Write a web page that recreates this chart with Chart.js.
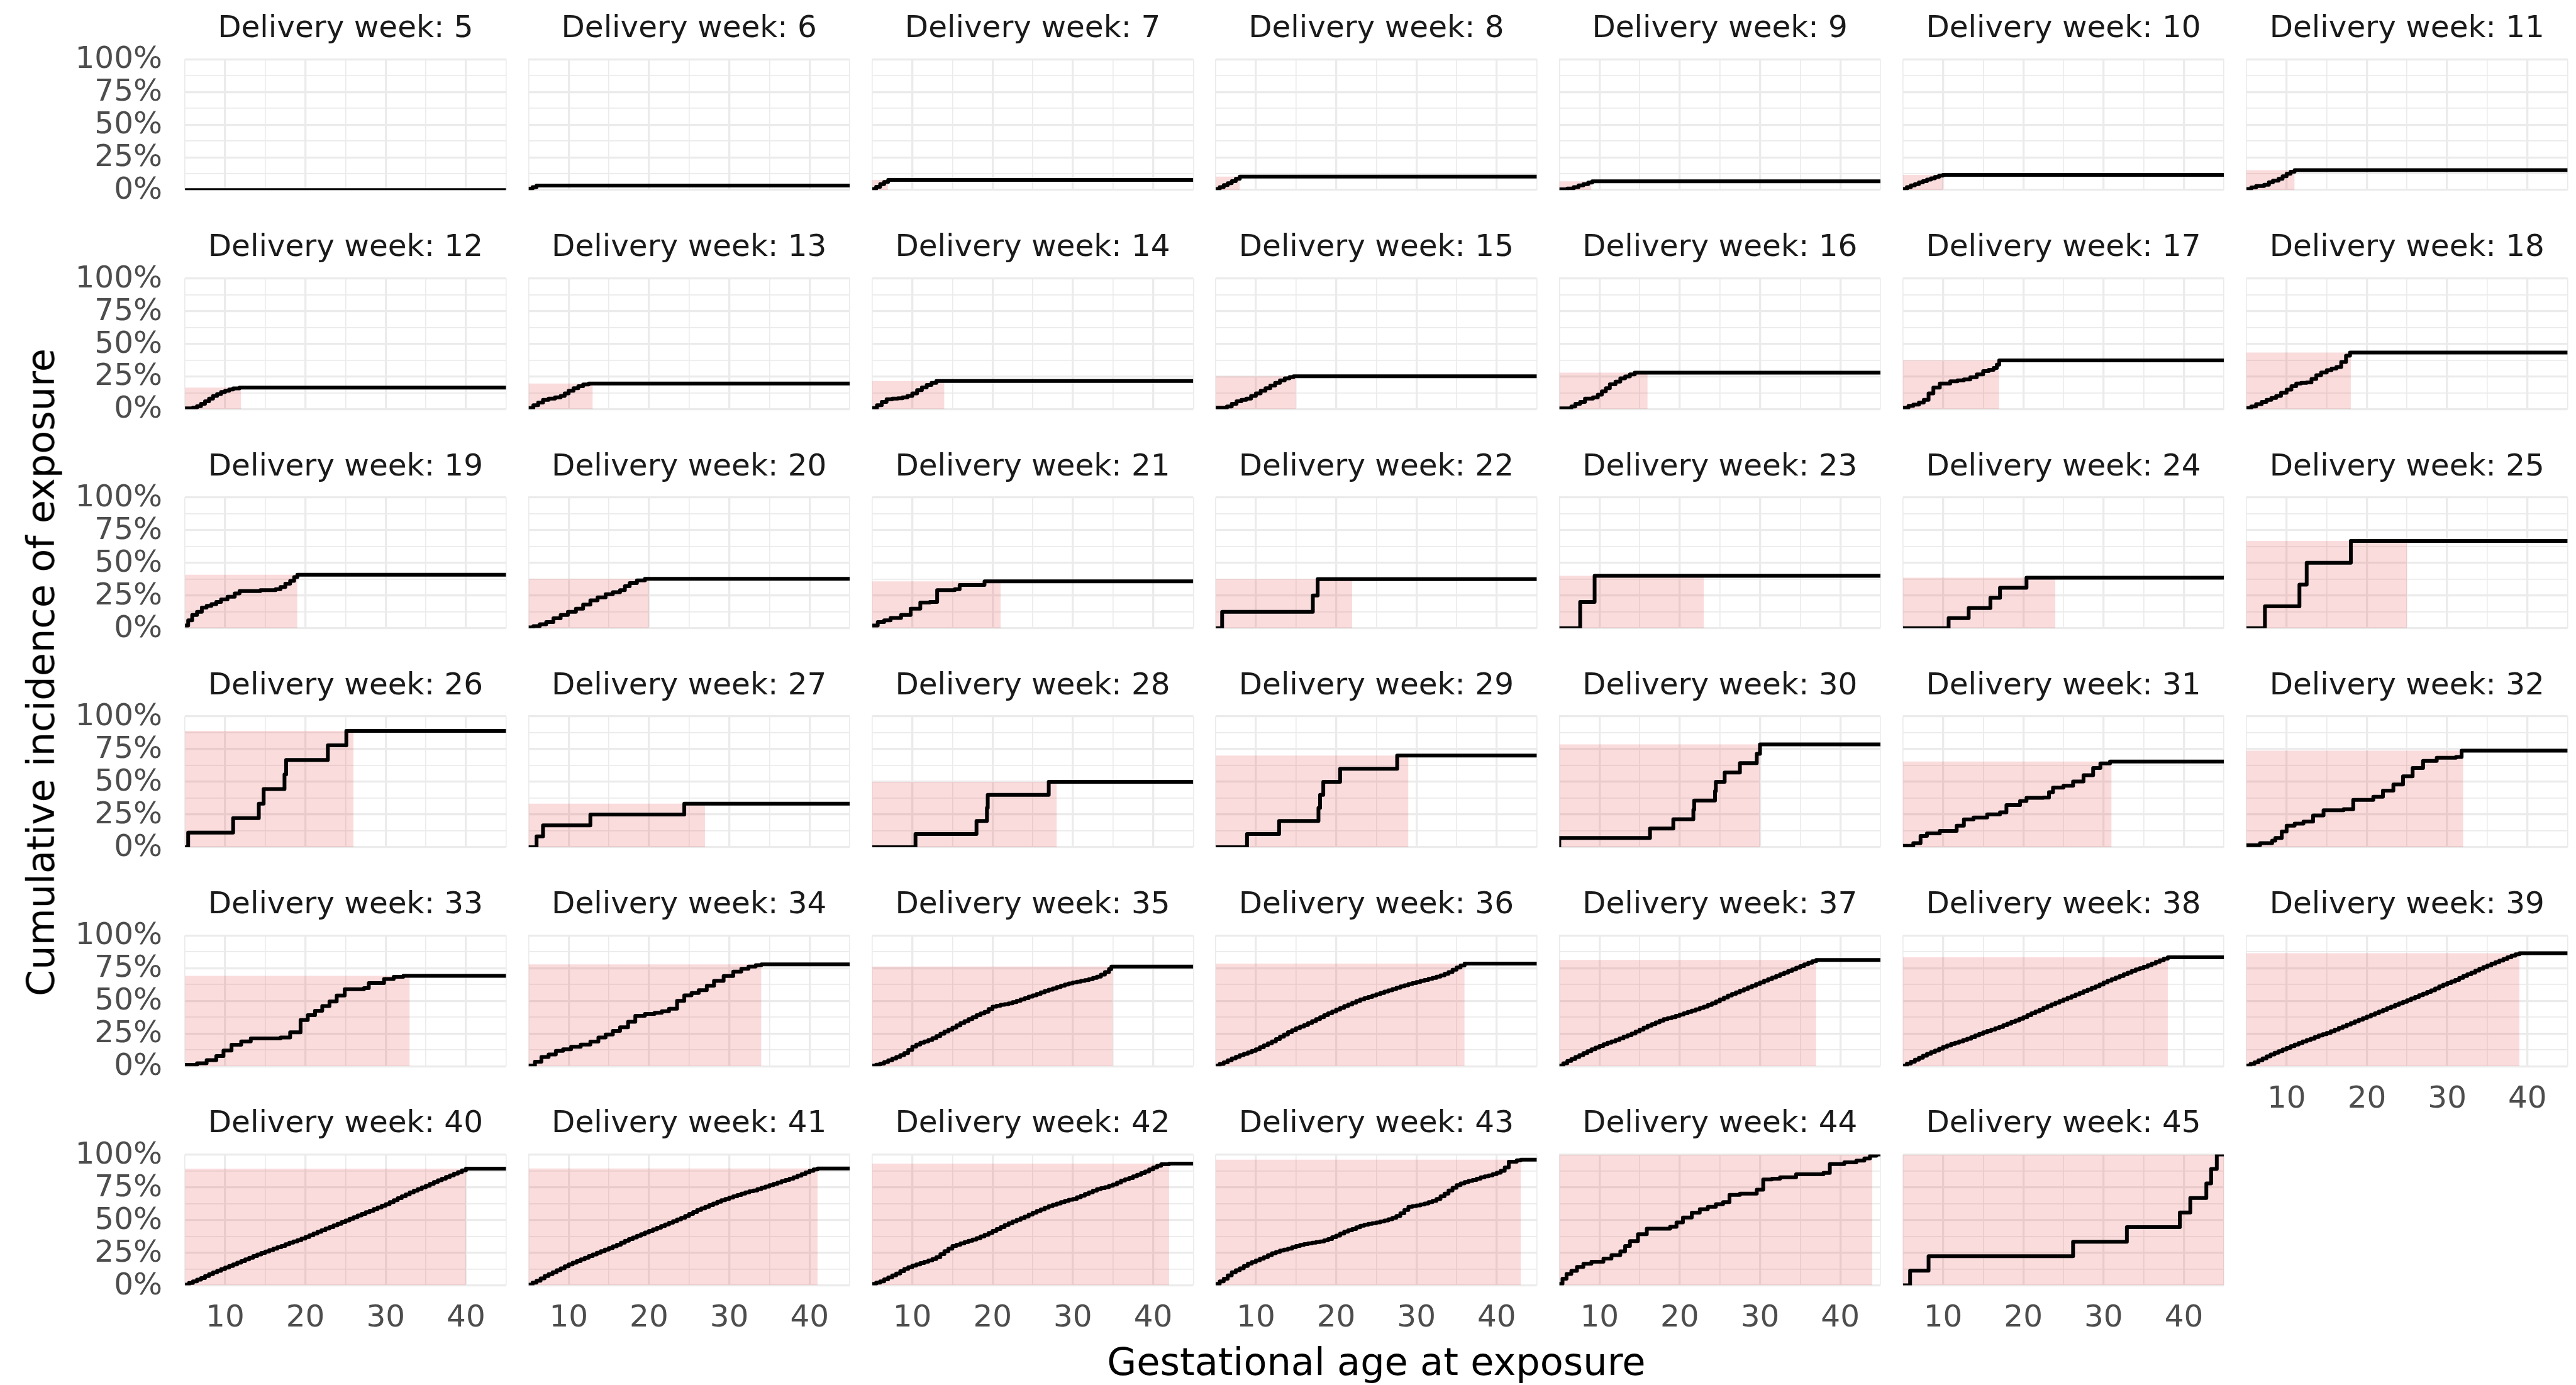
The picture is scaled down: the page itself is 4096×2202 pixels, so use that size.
<!DOCTYPE html>
<html><head><meta charset="utf-8">
<script src="https://cdn.jsdelivr.net/npm/chart.js@4.4.1/dist/chart.umd.min.js"></script>
<style>
html,body{margin:0;padding:0;background:#fff;}
#wrap{position:relative;width:4096px;height:2202px;overflow:hidden;background:#fff;}
#wrap canvas{position:absolute;}
.axt{position:absolute;font-family:'DejaVu Sans',sans-serif;line-height:1;color:#000;white-space:nowrap;}
</style></head><body><div id="wrap"></div>
<script>
// ---------------- DATA ----------------
const deliveryWeeks = [5,6,7,8,9,10,11,12,13,14,15,16,17,18,19,20,21,22,23,24,25,26,27,28,29,30,31,32,33,34,35,36,37,38,39,40,41,42,43,44,45];
// cumulative incidence step points [gestational week, proportion]
const wk5 = [[5,0]];
const wk6 = [[5,0.01],[5.5,0.022],[6,0.034]];
const wk7 = [[5,0.008],[5.5,0.025],[6,0.045],[6.5,0.062],[7,0.078]];
const wk8 = [[5,0.008],[5.5,0.022],[6,0.038],[6.5,0.052],[7,0.068],[7.5,0.086],[8,0.103]];
const wk9 = [[5,0.005],[6,0.012],[6.8,0.022],[7.4,0.035],[8,0.045],[8.6,0.057],[9.1,0.067]];
const wk10 = [[5,0.008],[5.5,0.022],[6,0.035],[6.5,0.045],[7,0.058],[7.5,0.068],[8,0.08],[8.5,0.09],[9,0.1],[9.5,0.11],[10,0.116]];
const wk11 = [[5,0.008],[5.6,0.02],[6.2,0.031],[7.2,0.04],[7.8,0.06],[8.3,0.072],[9,0.086],[9.5,0.105],[10,0.125],[10.5,0.14],[11,0.152]];
const wk12 = [[5,0.005],[6,0.012],[6.5,0.022],[7,0.04],[7.5,0.06],[8,0.08],[8.5,0.1],[9,0.115],[9.5,0.13],[10,0.14],[10.5,0.15],[11,0.158],[11.8,0.164]];
const wk13 = [[5,0.008],[5.6,0.03],[6.2,0.05],[6.8,0.07],[7.5,0.08],[8.3,0.09],[9,0.1],[9.5,0.12],[10,0.14],[10.6,0.16],[11.2,0.175],[11.8,0.188],[12.5,0.196]];
const wk14 = [[5,0.008],[5.6,0.03],[6.2,0.055],[6.8,0.075],[7.5,0.08],[8.2,0.083],[8.8,0.09],[9.4,0.1],[10,0.12],[10.6,0.145],[11.2,0.165],[11.8,0.185],[12.4,0.2],[13,0.215]];
const wk15 = [[5,0.01],[6.4,0.02],[7,0.04],[7.6,0.06],[8.2,0.07],[8.8,0.08],[9.4,0.1],[10,0.12],[10.6,0.14],[11.2,0.16],[11.8,0.18],[12.4,0.2],[13,0.22],[13.6,0.235],[14.2,0.245],[14.7,0.251]];
const wk16 = [[5,0.005],[6.5,0.02],[7,0.04],[7.6,0.055],[8.2,0.08],[9.2,0.09],[9.8,0.11],[10.3,0.135],[10.8,0.16],[11.3,0.19],[12,0.21],[12.6,0.235],[13.2,0.25],[13.8,0.265],[14.4,0.278]];
const wk17 = [[5,0.01],[5.7,0.025],[6.3,0.034],[7,0.05],[7.6,0.07],[8.2,0.12],[8.8,0.164],[9.6,0.196],[10.9,0.212],[11.8,0.22],[12.6,0.227],[13.4,0.243],[14.2,0.265],[15,0.29],[15.7,0.3],[16.3,0.314],[16.7,0.34],[17,0.372]];
const wk18 = [[5,0.008],[5.6,0.02],[6.2,0.038],[6.9,0.055],[7.5,0.07],[8.1,0.085],[8.7,0.101],[9.3,0.125],[10,0.149],[10.6,0.175],[11.2,0.196],[11.8,0.2],[12.5,0.204],[13.1,0.23],[13.7,0.259],[14.3,0.28],[15,0.298],[15.6,0.31],[16.2,0.322],[16.8,0.36],[17.4,0.408],[17.9,0.432]];
const wk19 = [[5,0.02],[5.4,0.06],[5.9,0.1],[6.5,0.125],[7.1,0.157],[7.7,0.17],[8.3,0.183],[8.9,0.2],[9.5,0.22],[10.3,0.24],[11.2,0.265],[11.8,0.283],[14.4,0.29],[16.3,0.298],[16.9,0.314],[17.5,0.34],[18.1,0.361],[18.6,0.39],[19,0.408]];
const wk20 = [[5,0.005],[5.6,0.015],[6.4,0.03],[7.2,0.046],[8.1,0.075],[9,0.101],[9.9,0.125],[10.9,0.149],[11.8,0.18],[12.7,0.212],[13.6,0.235],[14.6,0.259],[15.5,0.275],[16.4,0.29],[17,0.32],[17.6,0.345],[18.5,0.365],[19.5,0.377]];
const wk21 = [[5,0.02],[5.7,0.046],[6.5,0.06],[7.3,0.078],[8.6,0.101],[9.8,0.149],[11,0.196],[12.2,0.2],[13.1,0.29],[15.3,0.298],[15.9,0.33],[19,0.358]];
const wk22 = [[5,0],[5.8,0.125],[17.1,0.25],[17.7,0.375]];
const wk23 = [[5,0],[7.6,0.2],[9.4,0.4]];
const wk24 = [[5,0],[10.7,0.077],[13.2,0.154],[15.9,0.231],[17.1,0.308],[20.4,0.385]];
const wk25 = [[5,0],[7.3,0.167],[11.6,0.333],[12.5,0.5],[18,0.667]];
const wk26 = [[5,0],[5.4,0.111],[11,0.222],[14.2,0.333],[14.8,0.444],[17.4,0.556],[17.6,0.667],[22.8,0.778],[25.1,0.889]];
const wk27 = [[5,0],[6,0.083],[6.8,0.167],[12.7,0.25],[24.4,0.333]];
const wk28 = [[5,0],[10.4,0.1],[18,0.2],[19.3,0.3],[19.4,0.4],[27,0.5]];
const wk29 = [[5,0],[8.9,0.1],[12.9,0.2],[17.8,0.3],[18,0.4],[18.4,0.5],[20.5,0.6],[27.6,0.7]];
const wk30 = [[5,0],[5,0.071],[16.3,0.143],[19.2,0.214],[21.7,0.286],[21.8,0.357],[24.4,0.429],[24.5,0.5],[25.6,0.571],[27.5,0.643],[29.6,0.714],[30,0.786]];
const wk31 = [[5,0.01],[6.3,0.031],[7.2,0.086],[8,0.105],[9.6,0.125],[11.7,0.164],[12.6,0.212],[13.8,0.227],[15.5,0.251],[17.1,0.267],[17.9,0.322],[19.6,0.353],[20.4,0.377],[22.5,0.38],[23.2,0.42],[23.7,0.455],[25,0.47],[26.2,0.502],[27.5,0.55],[28.7,0.605],[29.6,0.64],[30.8,0.655]];
const wk32 = [[5,0.015],[6.7,0.031],[8.2,0.05],[8.6,0.07],[9.4,0.12],[10,0.164],[11,0.18],[12.1,0.196],[13.3,0.243],[14.6,0.282],[17.1,0.29],[18.3,0.361],[20.8,0.385],[22,0.432],[23.3,0.479],[24.5,0.542],[25.7,0.605],[27,0.66],[28.7,0.683],[31.1,0.69],[31.8,0.738]];
const wk33 = [[5,0.01],[6.5,0.023],[7.7,0.046],[8.9,0.078],[9.8,0.12],[10.8,0.164],[12,0.19],[13.2,0.212],[16.9,0.22],[18.1,0.259],[19.4,0.353],[20.3,0.39],[21.2,0.424],[22.1,0.46],[23,0.495],[23.9,0.54],[24.9,0.589],[27.3,0.597],[27.9,0.636],[29.8,0.667],[31,0.683],[32.2,0.691]];
const wk34 = [[5,0.005],[5.8,0.035],[6.6,0.07],[7.5,0.09],[8.4,0.117],[9.3,0.13],[10.3,0.149],[11.5,0.165],[12.7,0.188],[13.7,0.22],[14.6,0.243],[15.5,0.27],[16.4,0.298],[17.4,0.34],[18.3,0.385],[19.5,0.4],[20.7,0.408],[21.6,0.42],[22.5,0.44],[23.5,0.5],[24.4,0.542],[25.3,0.56],[26.2,0.581],[27.2,0.615],[28.1,0.652],[29.3,0.69],[30.5,0.723],[31.5,0.745],[32.4,0.762],[33.3,0.772],[34,0.778]];
const wk35 = [[5,0.005],[5.5,0.012],[6,0.02],[6.5,0.032],[7,0.045],[7.5,0.058],[8,0.07],[8.5,0.085],[9,0.1],[9.5,0.125],[10,0.15],[10.5,0.165],[11,0.18],[11.5,0.19],[12,0.2],[12.5,0.215],[13,0.23],[13.5,0.248],[14,0.265],[14.5,0.28],[15,0.295],[15.5,0.312],[16,0.33],[16.5,0.345],[17,0.36],[17.5,0.375],[18,0.39],[18.5,0.403],[19,0.416],[19.5,0.437],[20,0.455],[20.5,0.463],[21,0.47],[21.5,0.475],[22,0.48],[22.5,0.49],[23,0.5],[23.5,0.51],[24,0.52],[24.5,0.532],[25,0.542],[25.5,0.553],[26,0.565],[26.5,0.575],[27,0.585],[27.5,0.595],[28,0.605],[28.5,0.615],[29,0.625],[29.5,0.633],[30,0.64],[30.5,0.646],[31,0.652],[31.5,0.658],[32,0.665],[32.5,0.675],[33,0.685],[33.5,0.7],[34,0.72],[34.5,0.742],[34.8,0.762]];
const wk36 = [[5,0.005],[5.5,0.018],[6,0.03],[6.5,0.045],[7,0.06],[7.5,0.072],[8,0.085],[8.5,0.095],[9,0.105],[9.5,0.118],[10,0.13],[10.5,0.145],[11,0.16],[11.5,0.175],[12,0.19],[12.5,0.208],[13,0.225],[13.5,0.243],[14,0.26],[14.5,0.275],[15,0.29],[15.5,0.303],[16,0.315],[16.5,0.33],[17,0.345],[17.5,0.36],[18,0.375],[18.5,0.39],[19,0.405],[19.5,0.418],[20,0.432],[20.5,0.446],[21,0.46],[21.5,0.472],[22,0.485],[22.5,0.498],[23,0.51],[23.5,0.52],[24,0.53],[24.5,0.54],[25,0.55],[25.5,0.56],[26,0.57],[26.5,0.58],[27,0.59],[27.5,0.6],[28,0.61],[28.5,0.619],[29,0.628],[29.5,0.636],[30,0.644],[30.5,0.652],[31,0.66],[31.5,0.668],[32,0.675],[32.5,0.685],[33,0.695],[33.5,0.707],[34,0.72],[34.5,0.738],[35,0.755],[35.5,0.77],[36,0.785]];
const wk37 = [[5,0.005],[5.5,0.022],[6,0.04],[6.5,0.055],[7,0.07],[7.5,0.085],[8,0.1],[8.5,0.115],[9,0.13],[9.5,0.143],[10,0.155],[10.5,0.168],[11,0.18],[11.5,0.19],[12,0.2],[12.5,0.212],[13,0.225],[13.5,0.237],[14,0.25],[14.5,0.265],[15,0.28],[15.5,0.295],[16,0.31],[16.5,0.322],[17,0.335],[17.5,0.348],[18,0.36],[18.5,0.368],[19,0.375],[19.5,0.385],[20,0.395],[20.5,0.405],[21,0.415],[21.5,0.425],[22,0.435],[22.5,0.445],[23,0.455],[23.5,0.468],[24,0.48],[24.5,0.495],[25,0.51],[25.5,0.525],[26,0.54],[26.5,0.553],[27,0.565],[27.5,0.578],[28,0.59],[28.5,0.603],[29,0.615],[29.5,0.628],[30,0.64],[30.5,0.653],[31,0.665],[31.5,0.678],[32,0.69],[32.5,0.703],[33,0.715],[33.5,0.728],[34,0.74],[34.5,0.753],[35,0.765],[35.5,0.778],[36,0.79],[36.5,0.802],[37,0.812]];
const wk38 = [[5,0.005],[5.5,0.02],[6,0.035],[6.5,0.05],[7,0.065],[7.5,0.08],[8,0.095],[8.5,0.108],[9,0.12],[9.5,0.133],[10,0.147],[10.5,0.158],[11,0.17],[11.5,0.18],[12,0.19],[12.5,0.2],[13,0.21],[13.5,0.222],[14,0.235],[14.5,0.247],[15,0.259],[15.5,0.27],[16,0.28],[16.5,0.29],[17,0.3],[17.5,0.313],[18,0.325],[18.5,0.338],[19,0.35],[19.5,0.363],[20,0.375],[20.5,0.39],[21,0.405],[21.5,0.418],[22,0.43],[22.5,0.445],[23,0.46],[23.5,0.473],[24,0.485],[24.5,0.498],[25,0.51],[25.5,0.523],[26,0.535],[26.5,0.548],[27,0.56],[27.5,0.573],[28,0.585],[28.5,0.598],[29,0.61],[29.5,0.625],[30,0.64],[30.5,0.653],[31,0.665],[31.5,0.678],[32,0.69],[32.5,0.703],[33,0.715],[33.5,0.728],[34,0.74],[34.5,0.75],[35,0.76],[35.5,0.773],[36,0.785],[36.5,0.798],[37,0.81],[37.5,0.822],[38,0.833]];
const wk39 = [[5,0.005],[5.5,0.018],[6,0.03],[6.5,0.045],[7,0.06],[7.5,0.075],[8,0.09],[8.5,0.103],[9,0.115],[9.5,0.128],[10,0.14],[10.5,0.153],[11,0.165],[11.5,0.178],[12,0.19],[12.5,0.2],[13,0.21],[13.5,0.223],[14,0.235],[14.5,0.245],[15,0.255],[15.5,0.268],[16,0.28],[16.5,0.293],[17,0.305],[17.5,0.318],[18,0.33],[18.5,0.343],[19,0.355],[19.5,0.368],[20,0.38],[20.5,0.393],[21,0.405],[21.5,0.418],[22,0.43],[22.5,0.443],[23,0.455],[23.5,0.468],[24,0.48],[24.5,0.493],[25,0.505],[25.5,0.518],[26,0.53],[26.5,0.543],[27,0.555],[27.5,0.568],[28,0.58],[28.5,0.595],[29,0.61],[29.5,0.623],[30,0.635],[30.5,0.648],[31,0.66],[31.5,0.675],[32,0.69],[32.5,0.703],[33,0.715],[33.5,0.73],[34,0.745],[34.5,0.758],[35,0.77],[35.5,0.783],[36,0.795],[36.5,0.808],[37,0.82],[37.5,0.833],[38,0.845],[38.5,0.855],[39,0.864]];
const wk40 = [[5,0.005],[5.5,0.018],[6,0.03],[6.5,0.043],[7,0.055],[7.5,0.07],[8,0.085],[8.5,0.098],[9,0.11],[9.5,0.123],[10,0.135],[10.5,0.148],[11,0.16],[11.5,0.173],[12,0.185],[12.5,0.198],[13,0.21],[13.5,0.223],[14,0.235],[14.5,0.247],[15,0.258],[15.5,0.269],[16,0.28],[16.5,0.29],[17,0.3],[17.5,0.313],[18,0.325],[18.5,0.335],[19,0.345],[19.5,0.357],[20,0.369],[20.5,0.382],[21,0.395],[21.5,0.408],[22,0.42],[22.5,0.433],[23,0.445],[23.5,0.458],[24,0.47],[24.5,0.483],[25,0.495],[25.5,0.508],[26,0.52],[26.5,0.533],[27,0.545],[27.5,0.558],[28,0.57],[28.5,0.583],[29,0.595],[29.5,0.608],[30,0.62],[30.5,0.635],[31,0.65],[31.5,0.665],[32,0.68],[32.5,0.695],[33,0.71],[33.5,0.723],[34,0.735],[34.5,0.748],[35,0.76],[35.5,0.775],[36,0.79],[36.5,0.803],[37,0.815],[37.5,0.828],[38,0.84],[38.5,0.853],[39,0.865],[39.5,0.878],[40,0.891]];
const wk41 = [[5,0.005],[5.5,0.02],[6,0.035],[6.5,0.053],[7,0.07],[7.5,0.085],[8,0.1],[8.5,0.115],[9,0.13],[9.5,0.145],[10,0.16],[10.5,0.173],[11,0.185],[11.5,0.198],[12,0.21],[12.5,0.223],[13,0.235],[13.5,0.248],[14,0.26],[14.5,0.273],[15,0.285],[15.5,0.298],[16,0.31],[16.5,0.325],[17,0.34],[17.5,0.353],[18,0.365],[18.5,0.378],[19,0.39],[19.5,0.403],[20,0.415],[20.5,0.428],[21,0.44],[21.5,0.453],[22,0.465],[22.5,0.478],[23,0.49],[23.5,0.503],[24,0.515],[24.5,0.53],[25,0.545],[25.5,0.56],[26,0.575],[26.5,0.588],[27,0.6],[27.5,0.613],[28,0.625],[28.5,0.638],[29,0.65],[29.5,0.66],[30,0.67],[30.5,0.68],[31,0.69],[31.5,0.7],[32,0.71],[32.5,0.718],[33,0.725],[33.5,0.735],[34,0.745],[34.5,0.755],[35,0.765],[35.5,0.775],[36,0.785],[36.5,0.795],[37,0.805],[37.5,0.815],[38,0.825],[38.5,0.838],[39,0.85],[39.5,0.863],[40,0.875],[40.5,0.885],[41,0.893]];
const wk42 = [[5,0.01],[5.5,0.02],[6,0.03],[6.5,0.045],[7,0.06],[7.5,0.075],[8,0.09],[8.5,0.108],[9,0.125],[9.5,0.138],[10,0.15],[10.5,0.16],[11,0.17],[11.5,0.18],[12,0.19],[12.5,0.2],[13,0.215],[13.5,0.238],[14,0.26],[14.5,0.28],[15,0.3],[15.5,0.31],[16,0.32],[16.5,0.33],[17,0.34],[17.5,0.35],[18,0.36],[18.5,0.373],[19,0.385],[19.5,0.4],[20,0.415],[20.5,0.43],[21,0.445],[21.5,0.46],[22,0.475],[22.5,0.488],[23,0.5],[23.5,0.513],[24,0.525],[24.5,0.54],[25,0.555],[25.5,0.568],[26,0.58],[26.5,0.593],[27,0.605],[27.5,0.615],[28,0.625],[28.5,0.635],[29,0.645],[29.5,0.653],[30,0.66],[30.5,0.673],[31,0.685],[31.5,0.698],[32,0.71],[32.5,0.723],[33,0.735],[33.5,0.743],[34,0.75],[34.5,0.76],[35,0.77],[35.5,0.785],[36,0.8],[36.5,0.81],[37,0.82],[37.5,0.833],[38,0.845],[38.5,0.858],[39,0.87],[39.5,0.885],[40,0.9],[40.5,0.913],[41,0.925],[42,0.93]];
const wk43 = [[5,0.01],[5.5,0.03],[6,0.05],[6.5,0.075],[7,0.1],[7.5,0.115],[8,0.13],[8.5,0.148],[9,0.165],[9.5,0.178],[10,0.19],[10.5,0.203],[11,0.215],[11.5,0.23],[12,0.245],[12.5,0.255],[13,0.265],[13.5,0.272],[14,0.28],[14.5,0.29],[15,0.3],[15.5,0.308],[16,0.315],[16.5,0.32],[17,0.325],[17.5,0.33],[18,0.335],[18.5,0.343],[19,0.353],[19.5,0.367],[20,0.38],[20.5,0.395],[21,0.41],[21.5,0.42],[22,0.43],[22.5,0.443],[23,0.455],[23.5,0.463],[24,0.47],[24.5,0.475],[25,0.48],[25.5,0.488],[26,0.495],[26.5,0.505],[27,0.515],[27.5,0.53],[28,0.55],[28.5,0.575],[29,0.6],[29.5,0.605],[30,0.61],[30.5,0.618],[31,0.625],[31.5,0.635],[32,0.645],[32.5,0.66],[33,0.68],[33.5,0.7],[34,0.725],[34.5,0.745],[35,0.765],[35.5,0.778],[36,0.79],[36.5,0.798],[37,0.805],[37.5,0.815],[38,0.825],[38.5,0.833],[39,0.84],[39.5,0.85],[40,0.86],[40.5,0.875],[41,0.9],[41.5,0.945],[42.5,0.955],[43,0.96]];
const wk44 = [[5,0.01],[5.4,0.05],[5.9,0.086],[6.5,0.11],[7.2,0.14],[8,0.164],[9,0.18],[10.5,0.204],[11.5,0.23],[12.6,0.259],[13.2,0.3],[13.8,0.337],[14.8,0.39],[15.9,0.432],[18.8,0.447],[19.6,0.48],[20.4,0.518],[21.5,0.555],[22.5,0.581],[23.5,0.6],[24.5,0.62],[25.4,0.636],[26.2,0.691],[27.5,0.7],[29.6,0.73],[30.4,0.809],[31.5,0.815],[32.5,0.825],[34.5,0.848],[37.9,0.859],[38.7,0.927],[40.5,0.94],[42,0.953],[43,0.97],[43.7,0.99],[44.5,1.0]];
const wk45 = [[5,0],[5.9,0.111],[8.2,0.222],[26.2,0.333],[32.9,0.444],[39.5,0.556],[40.8,0.667],[42.8,0.778],[43.4,0.889],[44.1,1.0]];
const curves = [wk5,wk6,wk7,wk8,wk9,wk10,wk11,wk12,wk13,wk14,wk15,wk16,wk17,wk18,wk19,wk20,wk21,wk22,wk23,wk24,wk25,wk26,wk27,wk28,wk29,wk30,wk31,wk32,wk33,wk34,wk35,wk36,wk37,wk38,wk39,wk40,wk41,wk42,wk43,wk44,wk45];

const xTickValues = [10,20,30,40];
const xTickLabels = ['10','20','30','40'];
const yTickValues = [0,0.25,0.5,0.75,1];
const yTickLabels = ['0%','25%','50%','75%','100%'];
const stripPrefix = 'Delivery week: ';
const xAxisTitle = 'Gestational age at exposure';
const yAxisTitle = 'Cumulative incidence of exposure';

// ---------------- LAYOUT / STYLE ----------------
const S = 0.981;
const FONT = "'DejaVu Sans', sans-serif";
const LY = {
  left0: 299.8*S, pitchX: 556.9*S, W: 520.5*S,
  top0: 96*S, pitchY: 355*S, H: 212*S,
  stripMid: 48.5*S, yLabGap: 36.8*S, yLabShift: 1.5, xLabMid: 54*S,
  tickFont: 49.4*S, titleFont: 61.75*S,
  xMin: 5, xMax: 45, nCol: 7
};
const ST = {
  line: '#000000', lineW: 6,
  rect: 'rgba(220,20,30,0.15)',
  grid: '#EBEBEB', gridMajor: 3.3, gridMinor: 1.65,
  tickColor: '#4D4D4D', stripColor: '#1A1A1A'
};
const gridX = [5,10,15,20,25,30,35,40,45];
const gridY = [0,0.125,0.25,0.375,0.5,0.625,0.75,0.875,1];

const wrap = document.getElementById('wrap');

deliveryWeeks.forEach((wk, i) => {
  const r = Math.floor(i / LY.nCol), c = i % LY.nCol;
  const pl = LY.left0 + c*LY.pitchX, pt = LY.top0 + r*LY.pitchY;
  const cl = Math.floor(pl - 200), ct = Math.floor(pt - 110);
  const ml = pl - cl, mt = pt - ct;
  const cw = Math.ceil(ml + LY.W + 200), ch = Math.ceil(mt + LY.H + 110);
  const mr = cw - ml - LY.W, mb = ch - mt - LY.H;
  const showY = c === 0;
  const showX = (i + LY.nCol) >= deliveryWeeks.length;

  const cv = document.createElement('canvas');
  cv.width = cw; cv.height = ch;
  cv.style.left = cl + 'px'; cv.style.top = ct + 'px';
  cv.style.width = cw + 'px'; cv.style.height = ch + 'px';
  wrap.appendChild(cv);

  const pts = curves[i].map(p => ({x: p[0], y: p[1]}));
  const last = pts[pts.length - 1].y;
  pts.push({x: LY.xMax, y: last});
  const h = Math.max(...curves[i].map(p => p[1]));

  const datasets = [{
    data: pts, stepped: 'before', borderColor: ST.line, borderWidth: ST.lineW,
    borderJoinStyle: 'round', borderCapStyle: 'butt', pointRadius: 0, fill: false, order: 1
  }];
  if (h > 0) {
    datasets.push({
      data: [{x: LY.xMin, y: h}, {x: wk, y: h}], borderWidth: 0, pointRadius: 0,
      fill: 'origin', backgroundColor: ST.rect, borderColor: 'rgba(0,0,0,0)', order: 2
    });
  }

  const lineH = LY.tickFont * 1.2;
  const padTop = mt - LY.stripMid - lineH/2;
  const padBottom = mt - padTop - lineH;

  new Chart(cv, {
    type: 'line',
    data: { datasets },
    options: {
      animation: false, responsive: false, devicePixelRatio: 1, events: [],
      layout: { padding: { left: 0, top: 0, right: mr, bottom: 0 }, autoPadding: false },
      plugins: {
        legend: { display: false }, tooltip: { enabled: false },
        title: {
          display: true, text: stripPrefix + wk, fullSize: false, align: 'center',
          color: ST.stripColor, font: { family: FONT, size: LY.tickFont, weight: 'normal', lineHeight: 1.2 },
          padding: { top: padTop, bottom: padBottom }
        }
      },
      scales: {
        x: {
          type: 'linear', min: LY.xMin, max: LY.xMax,
          afterBuildTicks: s => { s.ticks = gridX.map(v => ({value: v})); },
          afterFit: s => { s.height = mb; },
          grid: { color: ST.grid, drawTicks: false, tickLength: 0,
                  lineWidth: ctx => (ctx.tick && xTickValues.includes(ctx.tick.value)) ? ST.gridMajor : ST.gridMinor },
          border: { display: false },
          ticks: {
            display: showX, autoSkip: false, maxRotation: 0, minRotation: 0, padding: 0,
            color: ST.tickColor, font: { family: FONT, size: LY.tickFont, lineHeight: 2*LY.xLabMid/LY.tickFont },
            callback: v => { const k = xTickValues.indexOf(v); return k >= 0 ? xTickLabels[k] : ''; }
          }
        },
        y: {
          type: 'linear', min: 0, max: 1,
          afterBuildTicks: s => { s.ticks = gridY.map(v => ({value: v})); },
          afterFit: s => { s.width = ml; },
          grid: { color: ST.grid, drawTicks: false, tickLength: 0,
                  lineWidth: ctx => (ctx.tick && yTickValues.includes(ctx.tick.value)) ? ST.gridMajor : ST.gridMinor },
          border: { display: false },
          ticks: {
            display: showY, autoSkip: false, padding: LY.yLabGap, labelOffset: LY.yLabShift,
            color: ST.tickColor, font: { family: FONT, size: LY.tickFont, lineHeight: 1.2 },
            callback: v => { const k = yTickValues.indexOf(v); return k >= 0 ? yTickLabels[k] : ''; }
          }
        }
      }
    }
  });
});

// axis titles
const xt = document.createElement('div');
xt.className = 'axt'; xt.textContent = xAxisTitle;
xt.style.fontSize = LY.titleFont + 'px';
const panelsRight = LY.left0 + (LY.nCol-1)*LY.pitchX + LY.W;
xt.style.left = ((LY.left0 + panelsRight)/2) + 'px';
xt.style.top = (2207*S) + 'px';
xt.style.transform = 'translate(-50%,-50%)';
wrap.appendChild(xt);

const yt = document.createElement('div');
yt.className = 'axt'; yt.textContent = yAxisTitle;
yt.style.fontSize = LY.titleFont + 'px';
yt.style.left = (66*S) + 'px';
yt.style.top = (1090*S) + 'px';
yt.style.transform = 'translate(-50%,-50%) rotate(-90deg)';
wrap.appendChild(yt);
</script>
</body></html>
